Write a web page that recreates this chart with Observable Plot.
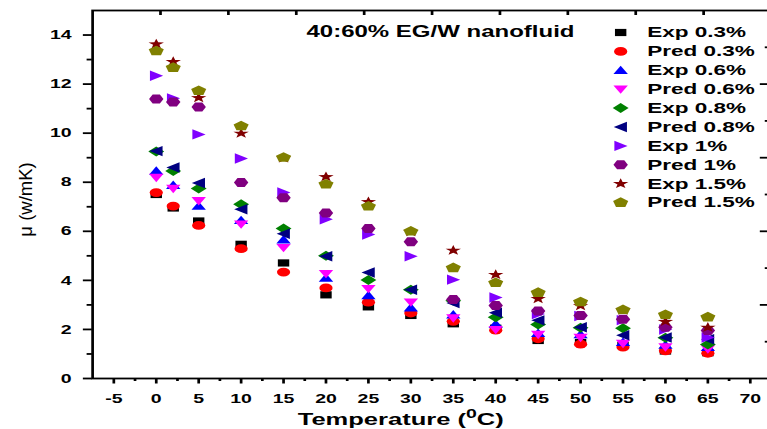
<!DOCTYPE html>
<html><head><meta charset="utf-8">
<script src="https://cdn.jsdelivr.net/npm/d3@7"></script>
<script src="https://cdn.jsdelivr.net/npm/@observablehq/plot@0.6"></script>
<style>
html,body{margin:0;padding:0;background:#fff;overflow:hidden;}
#wrap{width:511px;height:429px;transform:scaleX(1.501);transform-origin:0 0;}
</style></head><body><div id="wrap"></div>
<script>
// ---- data ----
const temps = [0, 2, 5, 10, 15, 20, 25, 30, 35, 40, 45, 50, 55, 60, 65];
const exp03  = [7.50, 6.95, 6.42, 5.47, 4.71, 3.41, 2.92, 2.57, 2.23, 2.05, 1.55, 1.47, 1.35, 1.12, 1.05];
const pred03 = [7.58, 7.03, 6.24, 5.29, 4.34, 3.69, 3.11, 2.67, 2.33, 1.97, 1.62, 1.40, 1.28, 1.13, 1.03];
const exp06  = [8.46, 7.88, 7.03, 6.45, 5.66, 4.10, 3.39, 2.89, 2.60, 2.22, 1.85, 1.80, 1.48, 1.37, 1.28];
const pred06 = [8.19, 7.74, 7.24, 6.29, 5.33, 4.27, 3.66, 3.11, 2.46, 1.99, 1.79, 1.67, 1.42, 1.28, 1.20];
const exp08  = [9.25, 8.46, 7.74, 7.10, 6.11, 5.00, 4.02, 3.62, 3.17, 2.50, 2.20, 2.07, 2.05, 1.66, 1.39];
const pred08 = [9.27, 8.60, 7.97, 6.90, 5.90, 4.98, 4.32, 3.62, 3.08, 2.68, 2.37, 2.09, 1.76, 1.67, 1.60];
const exp1   = [12.34, 11.42, 9.95, 8.97, 7.58, 6.49, 5.87, 4.98, 4.03, 3.30, 2.63, 2.55, 2.38, 2.00, 1.67];
const pred1  = [11.39, 11.27, 11.07, 7.99, 7.37, 6.75, 6.11, 5.57, 3.22, 2.98, 2.75, 2.57, 2.41, 2.09, 1.96];
const exp15  = [13.63, 12.91, 11.44, 9.99, 8.98, 8.22, 7.20, 5.98, 5.22, 4.23, 3.25, 2.96, 2.78, 2.32, 2.08];
const pred15 = [13.35, 12.67, 11.73, 10.29, 9.01, 7.92, 7.02, 6.00, 4.51, 3.90, 3.50, 3.12, 2.80, 2.60, 2.50];

const seriesNames = ["Exp 0.3%", "Pred 0.3%", "Exp 0.6%", "Pred 0.6%", "Exp 0.8%", "Pred 0.8%", "Exp 1%", "Pred 1%", "Exp 1.5%", "Pred 1.5%"];
const seriesValues = [exp03, pred03, exp06, pred06, exp08, pred08, exp1, pred1, exp15, pred15];
const seriesColors = ["#000000", "#ff0000", "#0000ff", "#ff00ff", "#008000", "#000080", "#8000ff", "#800080", "#800000", "#808000"];

const xMajor = [-5, 0, 5, 10, 15, 20, 25, 30, 35, 40, 45, 50, 55, 60, 65, 70];
const xMinor = [-2.5, 2.5, 7.5, 12.5, 17.5, 22.5, 27.5, 32.5, 37.5, 42.5, 47.5, 52.5, 57.5, 62.5, 67.5];
const yMajor = [0, 2, 4, 6, 8, 10, 12, 14];
const yMinor = [1, 3, 5, 7, 9, 11, 13];
const topTicks = [0.5, 8.5, 16.5, 24.5, 32.5, 40.5, 48.5, 56.5, 64.5];
const rightMajor = [3, 6, 9, 12];
const rightMinor = [1.5, 4.5, 7.5, 10.5, 13.5];
const titleText = "40:60% EG/W nanofluid";
const xTitle = ["Temperature (", "0", "C)"];
const yTitle = "\u03bc (w/mK)";

// ---- symbols (custom shapes) ----
function poly(pts) {
  return {draw(ctx) {
    ctx.moveTo(pts[0][0], pts[0][1]);
    for (let i = 1; i < pts.length; i++) ctx.lineTo(pts[i][0], pts[i][1]);
    ctx.closePath();
  }};
}
function radial(n, ro, ri) {
  const pts = [];
  const m = ri ? 2 * n : n;
  for (let i = 0; i < m; i++) {
    const a = -Math.PI / 2 + i * 2 * Math.PI / m;
    const r = ri && (i % 2) ? ri : ro;
    pts.push([r * Math.cos(a), r * Math.sin(a)]);
  }
  return poly(pts);
}
const symbols = [
  poly([[-3.8,-3.6],[3.8,-3.6],[3.8,3.6],[-3.8,3.6]]),
  {draw(ctx) { ctx.moveTo(4.4, 0); ctx.arc(0, 0, 4.4, 0, 2 * Math.PI); ctx.closePath(); }},
  poly([[0,-4.6],[4.8,3.8],[-4.8,3.8]]),
  poly([[0,4.6],[4.8,-3.8],[-4.8,-3.8]]),
  poly([[0,-5],[5.3,0],[0,5],[-5.3,0]]),
  poly([[-4.6,0],[4.2,-5.2],[4.2,5.2]]),
  poly([[4.6,0],[-4.2,-5.2],[-4.2,5.2]]),
  poly([[-4.8,0],[-2.4,-4.5],[2.4,-4.5],[4.8,0],[2.4,4.5],[-2.4,4.5]]),
  radial(5, 5.4, 2.2),
  radial(5, 5.3, 0)
];

const frameW = 513.5 - 61.2;
const frameH = 378 - 10;

const marks = [
  Plot.frame({strokeWidth: 1.8}),
  Plot.axisY(yMajor, {tickSize: 6, tickPadding: 8, tickFormat: d => String(d), label: null, strokeWidth: 1.8}),
  Plot.axisY(yMinor, {tickSize: 3.5, fill: "none", label: null, strokeWidth: 1.8}),
  Plot.axisX(xMajor, {tickSize: 5.5, tickPadding: 9.5, tickFormat: d => String(d), label: null, strokeWidth: 1.8}),
  Plot.axisX(xMinor, {tickSize: 3, fill: "none", label: null, strokeWidth: 1.8}),
  Plot.tickX(topTicks, {x: d => d, insetBottom: frameH - 5, strokeWidth: 1.8}),
  Plot.tickY(rightMajor, {y: d => d, insetLeft: frameW - 7.3, strokeWidth: 1.8}),
  Plot.tickY(rightMinor, {y: d => d, insetLeft: frameW - 4, strokeWidth: 1.8})
];

seriesValues.forEach((vals, k) => {
  const rows = temps.map((t, i) => ({t, v: vals[i]}));
  marks.push(Plot.dot(rows, {x: "t", y: "v", symbol: symbols[k], fill: seriesColors[k], stroke: "none"}));
});

seriesNames.forEach((name, k) => {
  marks.push(Plot.dot([name], {frameAnchor: "top-left", dx: 351.8, dy: 22 + 18.9 * k, symbol: symbols[k], fill: seriesColors[k], stroke: "none"}));
  marks.push(Plot.text([name], {frameAnchor: "top-left", dx: 369.5, dy: 22 + 18.9 * k, text: d => d, textAnchor: "start", lineAnchor: "middle", fontSize: 15, fontWeight: "bold", fill: "#000"}));
});

marks.push(Plot.text([titleText], {frameAnchor: "top", dx: 5.6, dy: 21, text: d => d, textAnchor: "middle", lineAnchor: "middle", fontSize: 16, fontWeight: "bold", fill: "#000"}));
marks.push(Plot.text([xTitle.join("")], {frameAnchor: "bottom", dx: -20.9, dy: 40.7, text: d => d, textAnchor: "middle", lineAnchor: "middle", fontSize: 17, fontWeight: "bold", fill: "#000", className: "xlab"}));
marks.push(Plot.text([yTitle], {frameAnchor: "left", dx: -44.5, dy: 5, rotate: -90, text: d => d, textAnchor: "middle", lineAnchor: "middle", fontSize: 18.5, fontWeight: "normal", fill: "#000", className: "ylab"}));

const plot = Plot.plot({
  width: 511, height: 429,
  marginTop: 10, marginBottom: 51, marginLeft: 61.2, marginRight: -2.5,
  x: {domain: [-7.5, 72.5]},
  y: {domain: [0, 15]},
  style: {fontFamily: '"Liberation Sans", Arial, sans-serif', fontSize: "13px", fontWeight: "bold", color: "#000", background: "#fff", overflow: "hidden"},
  marks
});
document.getElementById("wrap").appendChild(plot);

// superscript in x title
const xt = plot.querySelector(".xlab text");
if (xt) {
  xt.textContent = "";
  const ns = "http://www.w3.org/2000/svg";
  const a = document.createElementNS(ns, "tspan"); a.textContent = xTitle[0];
  const b = document.createElementNS(ns, "tspan"); b.textContent = xTitle[1];
  b.setAttribute("dy", "-7"); b.setAttribute("font-size", "13");
  const c = document.createElementNS(ns, "tspan"); c.textContent = xTitle[2];
  c.setAttribute("dy", "7");
  xt.append(a, b, c);
}
// y title is not horizontally stretched in the reference
const yt = plot.querySelector(".ylab text");
if (yt) yt.setAttribute("transform", (yt.getAttribute("transform") || "") + " scale(1,0.6662)");
</script>
</body></html>
